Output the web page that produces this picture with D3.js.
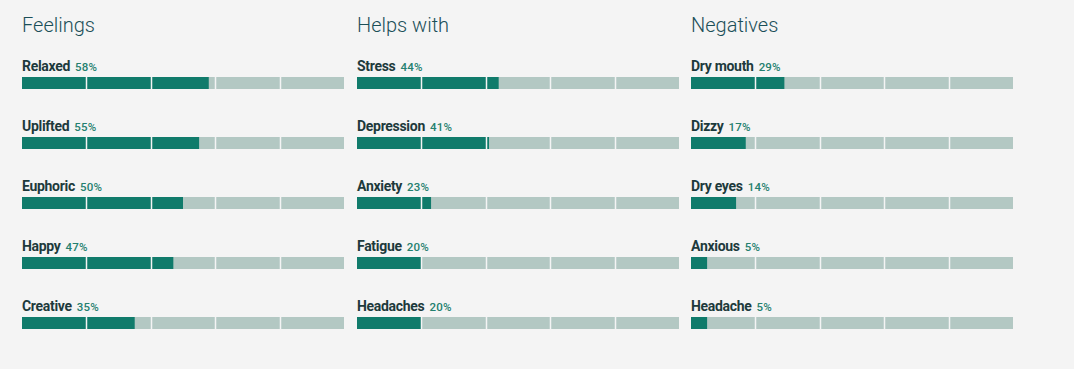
<!DOCTYPE html>
<html>
<head>
    <title>Effects</title>
    <script src="https://d3js.org/d3.v7.min.js"></script>
    <style>
        body { margin: 0; background: #f4f4f4; }
        svg { display: block; }
    </style>
</head>
<body>
<svg id="chart" width="1074" height="369"></svg>
<script>
    // Data
    var groups = ['Feelings', 'Helps with', 'Negatives'];
    var feelings = [['Relaxed', 58], ['Uplifted', 55], ['Euphoric', 50], ['Happy', 47], ['Creative', 35]];
    var helpsWith = [['Stress', 44], ['Depression', 41], ['Anxiety', 23], ['Fatigue', 20], ['Headaches', 20]];
    var negatives = [['Dry mouth', 29], ['Dizzy', 17], ['Dry eyes', 14], ['Anxious', 5], ['Headache', 5]];
    var ticks = [20, 40, 60, 80];

    var series = [feelings, helpsWith, negatives];

    var svg = d3.select('#chart');
    var colX = d3.scaleBand().domain(groups).range([22, 1026]).paddingInner(0);
    var barW = 322;
    var x = d3.scaleLinear().domain([0, 100]).range([0, barW]);
    var rowY = d3.scalePoint().domain(d3.range(5)).range([77, 317]);

    var col = svg.selectAll('g.col')
        .data(groups)
        .enter().append('g')
        .attr('class', 'col')
        .attr('transform', function(d) { return 'translate(' + Math.round(colX(d)) + ',0)'; });

    // group titles
    col.append('text')
        .attr('x', 0)
        .attr('y', 32)
        .attr('font-family', 'Roboto, sans-serif')
        .attr('font-weight', 300)
        .attr('font-size', 20)
        .attr('fill', '#1b4f58')
        .text(function(d) { return d; });

    var row = col.selectAll('g.row')
        .data(function(d, i) { return series[i]; })
        .enter().append('g')
        .attr('class', 'row')
        .attr('transform', function(d, i) { return 'translate(0,' + rowY(i) + ')'; });

    var label = row.append('text')
        .attr('x', 0)
        .attr('y', -6)
        .attr('font-family', 'Roboto, sans-serif')
        .attr('font-size', 14)
        .attr('letter-spacing', -0.3);
    label.append('tspan')
        .attr('font-weight', 700)
        .attr('fill', '#1d3a3c')
        .text(function(d) { return d[0]; });
    label.append('tspan')
        .attr('font-weight', 500)
        .attr('font-size', 11.5)
        .attr('letter-spacing', 0.2)
        .attr('fill', '#24806f')
        .attr('dx', 5)
        .text(function(d) { return d[1] + '%'; });

    // track, fill, then the 20% dividers on top
    row.append('rect')
        .attr('width', x(100))
        .attr('height', 12)
        .attr('fill', '#b3c8c3');

    row.append('rect')
        .attr('width', function(d) { return x(d[1]); })
        .attr('height', 12)
        .attr('fill', '#107b6b');

    row.selectAll('line.div')
        .data(ticks)
        .enter().append('line')
        .attr('class', 'div')
        .attr('x1', function(t) { return Math.round(x(t)) + 0.5; })
        .attr('x2', function(t) { return Math.round(x(t)) + 0.5; })
        .attr('y1', 0)
        .attr('y2', 12)
        .attr('stroke', '#f4f4f4')
        .attr('stroke-width', 1.5);
</script>
</body>
</html>
